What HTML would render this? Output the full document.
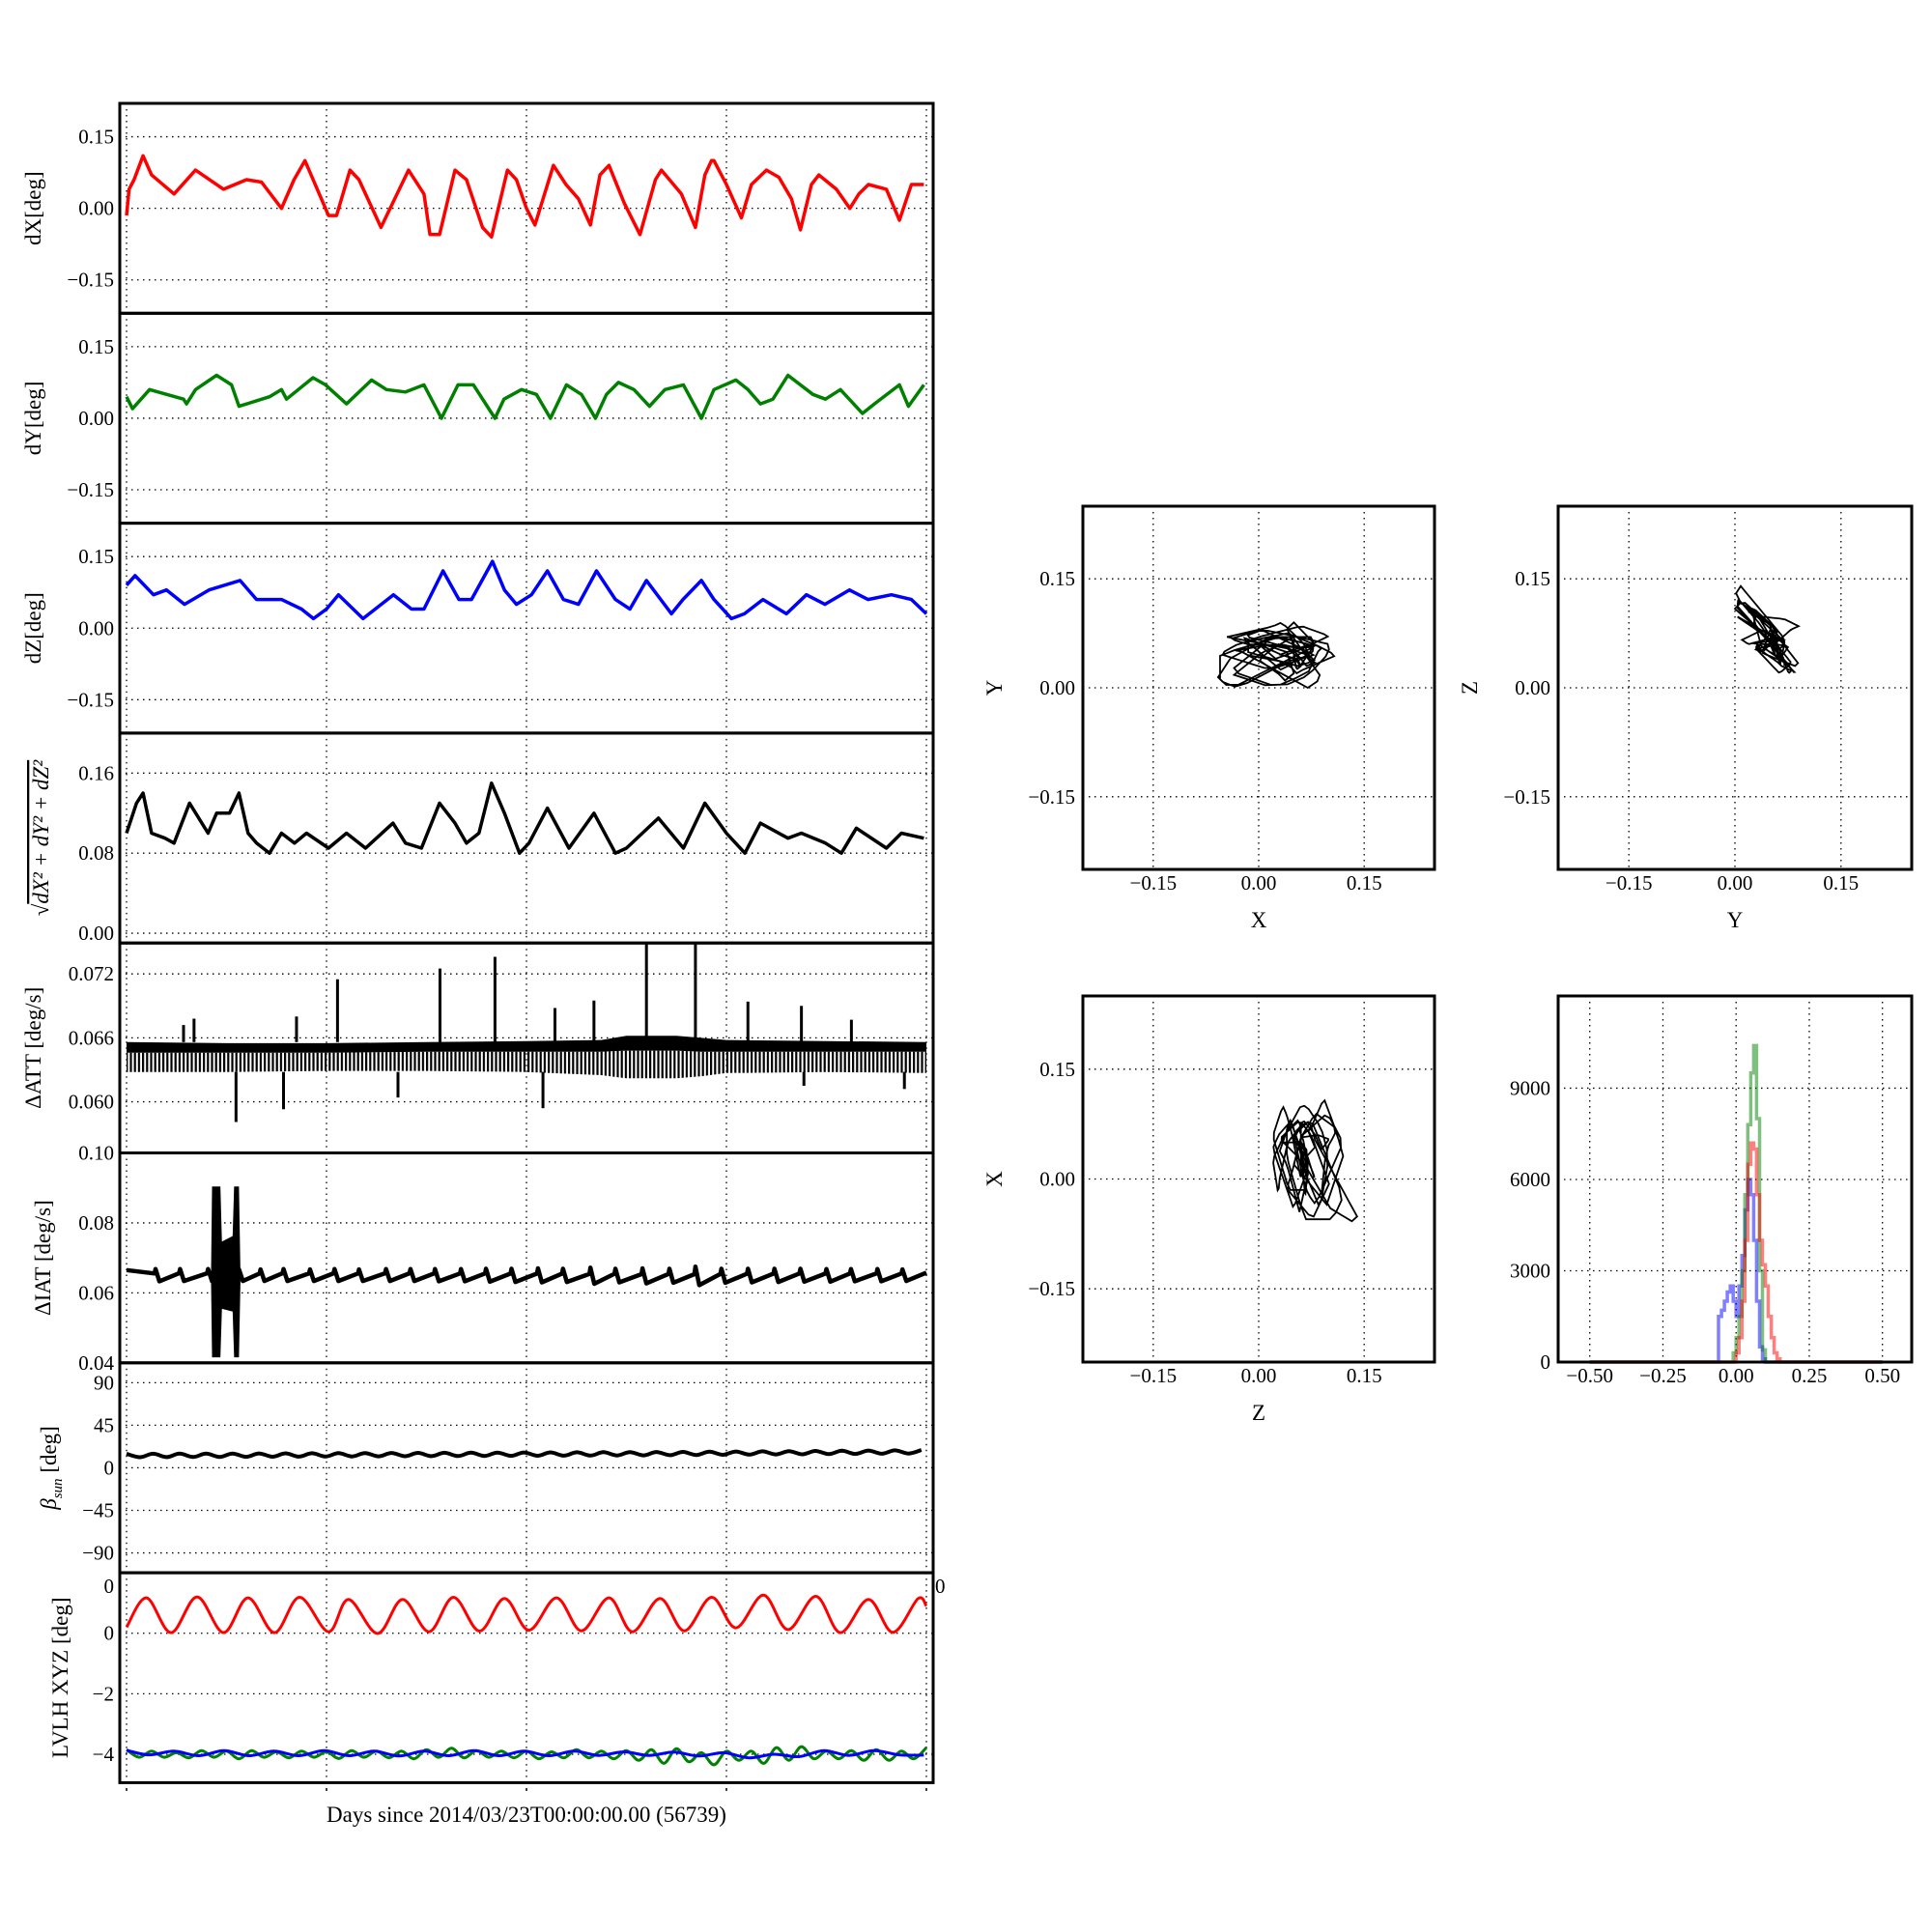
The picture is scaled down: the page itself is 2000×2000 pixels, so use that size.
<!DOCTYPE html>
<html><head><meta charset="utf-8"><style>
html,body{margin:0;padding:0;background:#fff;}
svg{display:block;font-family:"Liberation Serif",serif;}
</style></head><body>
<svg id="fig" width="2000" height="2000" viewBox="0 0 2000 2000" xmlns="http://www.w3.org/2000/svg"><defs><pattern id="comb" patternUnits="userSpaceOnUse" width="4.2" height="10"><rect x="0" y="0" width="2.2" height="10" fill="#000"/></pattern></defs></svg>
<script>
// ---------- data ----------
const dX_t=[0,0.05,0.15,0.33,0.5,0.95,1.38,1.94,2.4,2.7,3.1,3.35,3.57,4.04,4.2,4.47,4.65,5.09,5.64,5.95,6.07,6.26,6.57,6.8,7.12,7.3,7.62,7.8,8.0,8.17,8.54,8.79,9.04,9.28,9.47,9.65,9.96,10.27,10.58,10.7,11.1,11.38,11.57,11.7,11.75,12.0,12.3,12.5,12.8,13.05,13.3,13.48,13.7,13.85,14.2,14.47,14.65,14.84,15.2,15.46,15.7,15.95];
const dX_v=[-0.015,0.04,0.06,0.11,0.07,0.03,0.08,0.04,0.06,0.055,0.0,0.06,0.1,-0.015,-0.015,0.08,0.06,-0.04,0.08,0.03,-0.055,-0.055,0.08,0.06,-0.04,-0.06,0.08,0.06,0.0,-0.035,0.09,0.05,0.02,-0.035,0.07,0.09,0.01,-0.055,0.06,0.08,0.03,-0.04,0.07,0.1,0.1,0.05,-0.02,0.05,0.08,0.065,0.02,-0.045,0.05,0.07,0.04,0.0,0.03,0.05,0.04,-0.025,0.05,0.05];
const dY_t=[0,0.12,0.46,1.14,1.2,1.38,1.8,2.1,2.25,2.86,3.1,3.2,3.73,3.98,4.4,4.6,4.9,5.2,5.58,5.95,6.3,6.63,6.94,7.37,7.55,7.9,8.2,8.48,8.8,9.1,9.38,9.6,9.84,10.15,10.46,10.77,11.14,11.5,11.75,12.19,12.43,12.68,12.93,13.23,13.73,13.98,14.28,14.72,14.96,15.46,15.64,15.95];
const dY_v=[0.045,0.02,0.06,0.04,0.03,0.06,0.09,0.07,0.025,0.045,0.06,0.04,0.085,0.07,0.03,0.05,0.08,0.06,0.055,0.07,0.0,0.07,0.07,0.0,0.04,0.06,0.05,0.0,0.07,0.05,0.0,0.05,0.075,0.06,0.025,0.06,0.07,0.0,0.06,0.08,0.06,0.03,0.04,0.09,0.05,0.04,0.06,0.01,0.03,0.07,0.025,0.07];
const dZ_t=[0,0.17,0.54,0.8,1.16,1.65,2.27,2.6,3.1,3.5,3.74,4.0,4.24,4.73,5.34,5.7,5.95,6.33,6.65,6.9,7.32,7.56,7.8,8.1,8.42,8.74,9.04,9.4,9.78,10.07,10.4,10.9,11.13,11.5,11.75,12.1,12.36,12.73,13.2,13.6,13.97,14.46,14.83,15.3,15.7,16];
const dZ_v=[0.09,0.11,0.07,0.08,0.05,0.08,0.1,0.06,0.06,0.04,0.02,0.04,0.07,0.02,0.07,0.04,0.04,0.12,0.06,0.06,0.14,0.08,0.05,0.07,0.12,0.06,0.05,0.12,0.06,0.04,0.1,0.03,0.06,0.1,0.06,0.02,0.03,0.06,0.03,0.07,0.05,0.08,0.06,0.07,0.06,0.03];
const mag_t=[0,0.2,0.33,0.5,0.77,0.95,1.26,1.63,1.8,2.06,2.25,2.43,2.6,2.86,3.1,3.36,3.6,4.04,4.4,4.78,5.33,5.58,5.9,6.26,6.57,6.8,7.05,7.3,7.56,7.86,8.05,8.42,8.85,9.35,9.78,10.0,10.64,11.14,11.57,12.0,12.37,12.68,13.23,13.5,13.98,14.3,14.6,15.2,15.5,15.95];
const mag_v=[0.1,0.13,0.14,0.1,0.095,0.09,0.13,0.1,0.12,0.12,0.14,0.1,0.09,0.08,0.1,0.09,0.1,0.085,0.1,0.085,0.11,0.09,0.085,0.13,0.11,0.09,0.1,0.15,0.12,0.08,0.09,0.125,0.085,0.12,0.08,0.085,0.115,0.085,0.13,0.1,0.08,0.11,0.095,0.1,0.09,0.08,0.105,0.085,0.1,0.095];
const att_t=[0,2,4,6,8,9.5,10,11,11.5,12,14,16];
const att_hi=[0.0656,0.0655,0.0655,0.0656,0.0657,0.0658,0.0662,0.0662,0.0660,0.0658,0.0657,0.0656];
const att_mid=[0.0646,0.0646,0.0646,0.0647,0.0647,0.0647,0.0648,0.0648,0.0647,0.0647,0.0647,0.0647];
const att_lo=[0.0628,0.0628,0.0629,0.0629,0.0628,0.0625,0.0622,0.0622,0.0624,0.0627,0.0628,0.0627];
const attSpike_t=[1.14,1.35,3.4,4.22,6.27,7.37,8.57,9.35,10.4,11.38,12.43,13.5,14.5,2.19,3.14,5.43,8.33,13.55,15.56];
const attSpike_v=[0.0672,0.0678,0.0680,0.0715,0.0725,0.0736,0.0688,0.0695,0.0752,0.0748,0.0694,0.0690,0.0677,0.0581,0.0593,0.0604,0.0594,0.0615,0.0612];
const iat_t=[0.58,1.07,1.63,2.25,2.68,3.14,3.67,4.16,4.65,5.19,5.68,6.17,6.69,7.19,7.7,8.23,8.73,9.28,9.78,10.32,10.86,11.38,11.9,12.43,12.96,13.48,14.0,14.49,15.02,15.52];
const iat_hi=[0.0668,0.0668,0.0668,0.0667,0.0667,0.0668,0.0667,0.0668,0.0667,0.0668,0.0668,0.0668,0.0668,0.0669,0.0669,0.0670,0.0669,0.0672,0.0669,0.0670,0.0669,0.0675,0.0669,0.0669,0.0669,0.0669,0.0668,0.0668,0.0668,0.0667];
const iat_lo=[0.0633,0.0634,0.0634,0.0634,0.0634,0.0634,0.0634,0.0634,0.0634,0.0634,0.0634,0.0633,0.0633,0.0632,0.0631,0.0630,0.0631,0.0626,0.0630,0.0627,0.0629,0.0622,0.0629,0.0630,0.0631,0.0632,0.0632,0.0633,0.0633,0.0634];
const burst_t=[1.72,1.74,1.85,1.88,2.15,2.18,2.22,2.25];
const burst_hi=[0.066,0.090,0.090,0.074,0.076,0.090,0.090,0.066];
const burst_lo=[0.063,0.042,0.042,0.056,0.055,0.042,0.042,0.063];
const beta_t=[0,0.27,0.53,0.8,1.06,1.33,1.59,1.86,2.12,2.39,2.65,2.92,3.18,3.45,3.71,3.98,4.24,4.51,4.77,5.04,5.3,5.57,5.83,6.1,6.36,6.63,6.89,7.16,7.42,7.69,7.95,8.22,8.48,8.75,9.01,9.28,9.54,9.81,10.07,10.34,10.6,10.87,11.13,11.4,11.66,11.93,12.19,12.46,12.72,12.99,13.25,13.52,13.78,14.05,14.31,14.58,14.84,15.11,15.37,15.64,15.9];
const beta_v=[14.8,11.2,14.9,11.3,15.0,11.4,15.0,11.5,15.1,11.6,15.2,11.7,15.3,11.8,15.4,11.9,15.5,12.0,15.6,12.1,15.7,12.2,15.8,12.3,15.9,12.4,16.0,12.5,16.1,12.6,16.2,12.7,16.3,12.8,16.4,12.9,16.5,13.0,16.6,13.1,16.7,13.3,16.8,13.5,17.0,13.7,17.2,13.9,17.4,14.1,17.6,14.3,17.8,14.5,18.0,14.7,18.2,14.9,18.4,15.1,18.8];
const red_t=[0,0.4,0.89,1.41,1.94,2.43,2.96,3.46,4.04,4.44,5.02,5.52,6.05,6.54,7.06,7.56,8.05,8.6,9.1,9.65,10.12,10.67,11.16,11.7,12.19,12.74,13.23,13.79,14.28,14.84,15.33,15.83,16];
const red_v=[0.2,1.17,0.02,1.2,0.02,1.17,0.02,1.19,0.05,1.12,-0.01,1.12,0.05,1.19,0.07,1.15,0.1,1.17,0.08,1.17,0.05,1.15,0.08,1.19,0.18,1.26,0.12,1.22,0.02,1.12,0.03,1.14,0.9];
const blue_t=[0,0.45,0.95,1.45,1.95,2.45,2.95,3.45,3.95,4.45,4.95,5.45,5.95,6.45,6.95,7.45,7.95,8.45,8.95,9.45,9.95,10.45,10.95,11.45,11.95,12.45,12.95,13.45,13.95,14.45,14.95,15.45,15.95];
const blue_v=[-3.87,-4.02,-3.9,-4.05,-3.88,-4.05,-3.9,-4.05,-3.88,-4.05,-3.9,-4.06,-3.9,-4.05,-3.88,-4.05,-3.9,-4.05,-3.9,-4.04,-3.92,-4.04,-3.93,-4.06,-3.95,-4.12,-4.0,-4.08,-3.88,-4.04,-3.88,-4.02,-4.03];
const green_t=[0,0.25,0.5,0.75,1,1.25,1.5,1.75,2,2.25,2.5,2.75,3,3.25,3.5,3.75,4,4.25,4.5,4.75,5,5.25,5.5,5.75,6,6.25,6.5,6.75,7,7.25,7.5,7.75,8,8.25,8.5,8.75,9,9.25,9.5,9.75,10,10.25,10.5,10.75,11,11.25,11.5,11.75,12,12.25,12.5,12.75,13,13.25,13.5,13.75,14,14.25,14.5,14.75,15,15.25,15.5,15.75,16];
const green_v=[-3.85,-4.1,-3.9,-4.1,-3.95,-4.12,-3.88,-4.1,-3.9,-4.15,-3.88,-4.1,-3.92,-4.12,-3.9,-4.1,-3.92,-4.14,-3.88,-4.1,-3.9,-4.12,-3.9,-4.15,-3.85,-4.1,-3.8,-4.12,-3.88,-4.1,-3.9,-4.12,-3.9,-4.15,-3.92,-4.12,-3.85,-4.12,-3.9,-4.15,-3.88,-4.2,-3.85,-4.3,-3.82,-4.25,-3.95,-4.35,-3.9,-4.2,-3.9,-4.3,-3.78,-4.2,-3.75,-4.15,-3.9,-4.15,-3.88,-4.2,-3.85,-4.2,-3.9,-4.15,-3.78];
const hist_edges=[-0.07,-0.06,-0.05,-0.04,-0.03,-0.02,-0.01,0,0.01,0.02,0.03,0.04,0.05,0.06,0.07,0.08,0.09,0.10,0.11,0.12,0.13,0.14,0.15,0.16];
const hist_blue=[0,1500,1700,2000,2300,2500,2000,1500,2500,3500,5000,6000,5500,4000,2000,500,100,0,0,0,0,0,0];
const hist_green=[0,0,0,0,0,0,300,800,1500,3000,5500,7800,9500,10400,8000,3000,400,0,0,0,0,0,0];
const hist_red=[0,0,0,0,0,0,0,300,800,2000,4000,6500,7200,7000,5500,4000,3200,2500,1500,800,300,100,0];
const dayTicks=[0,4,8,12,16];
const scatTicks=[-0.15,0,0.15];
const scatLabels=["\u22120.15","0.00","0.15"];
const histXTicks=[-0.5,-0.25,0,0.25,0.5];
const histXLabels=["\u22120.50","\u22120.25","0.00","0.25","0.50"];
const histYTicks=[0,3000,6000,9000];

// ---------- helpers ----------
const NS='http://www.w3.org/2000/svg';
const svg=document.getElementById('fig');
function mk(tag,attrs,parent){const e=document.createElementNS(NS,tag);for(const k in attrs)e.setAttribute(k,attrs[k]);(parent||svg).appendChild(e);return e;}
function lin(d0,d1,r0,r1){return v=>r0+(v-d0)/(d1-d0)*(r1-r0);}
function polyPath(xs,ys){let s='';for(let i=0;i<xs.length;i++)s+=(i?'L':'M')+xs[i].toFixed(1)+','+ys[i].toFixed(1);return s;}
function smoothPath(xs,ys){let s='M'+xs[0]+','+ys[0];for(let i=0;i<xs.length-1;i++){const x0=xs[Math.max(i-1,0)],y0=ys[Math.max(i-1,0)],x1=xs[i],y1=ys[i],x2=xs[i+1],y2=ys[i+1],x3=xs[Math.min(i+2,xs.length-1)],y3=ys[Math.min(i+2,xs.length-1)];s+='C'+(x1+(x2-x0)/6).toFixed(1)+','+(y1+(y2-y0)/6).toFixed(1)+' '+(x2-(x3-x1)/6).toFixed(1)+','+(y2-(y3-y1)/6).toFixed(1)+' '+x2.toFixed(1)+','+y2.toFixed(1);}return s;}
const DASH='1.5,4.5';

// ---------- time series panels ----------
const L=124,R=966,TOP0=107,PH=217.3;
const xT=lin(0,16,131,959);
let clipId=0;
function panel(i,y0,y1,ticks,labels,name){
  const top=TOP0+i*PH,bot=top+PH;
  const y=lin(y0,y1,bot,top);
  const g=mk('g',{});
  
  
  const cp=mk('clipPath',{id:'c'+(++clipId)},g);
  mk('rect',{x:L,y:top,width:R-L,height:PH},cp);
  dayTicks.forEach(t=>{const l=mk('line',{x1:xT(t),x2:xT(t),y1:top,y2:bot,stroke:'#000','stroke-width':1.3,'stroke-dasharray':DASH},g);
    
    });
  ticks.forEach((v,k)=>{const yy=y(v);
    if(yy>top+2&&yy<bot-2){const l=mk('line',{x1:L,x2:R,y1:yy,y2:yy,stroke:'#000','stroke-width':1.3,'stroke-dasharray':DASH},g);
      
      }
    const tx=mk('text',{x:118,y:yy+7,'text-anchor':'end','font-size':21},g);tx.textContent=labels[k];
    
    });
  const data=mk('g',{'clip-path':'url(#c'+clipId+')'},g);
  
  
  return {g,data,y,top,bot};
}
function frame(i,name){const top=TOP0+i*PH;const r=mk('rect',{x:L,y:top,width:R-L,height:PH,fill:'none',stroke:'#000','stroke-width':3});
  
  }
function ytitle(x,yc,parts,name){const t=mk('text',{transform:'translate('+x+','+yc+') rotate(-90)','text-anchor':'middle','font-size':23});
  parts.forEach(p=>{const s=mk('tspan',p.a||{},t);s.textContent=p.s;});
  
  }
function line(p,ts,vs,color,w,name,smooth){const n=Math.min(ts.length,vs.length);const xs=[],ys=[];for(let k=0;k<n;k++){xs.push(xT(ts[k]));ys.push(p.y(vs[k]));}
  const e=mk('path',{d:smooth?smoothPath(xs,ys):polyPath(xs,ys),fill:'none',stroke:color,'stroke-width':w,'stroke-linejoin':'round'},p.data);
  
  }
const cent=i=>TOP0+i*PH+PH/2;

let p=panel(0,-0.22,0.22,[0.15,0,-0.15],["0.15","0.00","\u22120.15"],'dx');
line(p,dX_t,dX_v,'#ff0000',3.5,'dx-line');
ytitle(42,cent(0),[{s:'dX[deg]'}],'dx-axis-title');
p=panel(1,-0.22,0.22,[0.15,0,-0.15],["0.15","0.00","\u22120.15"],'dy');
line(p,dY_t,dY_v,'#008000',3.5,'dy-line');
ytitle(42,cent(1),[{s:'dY[deg]'}],'dy-axis-title');
p=panel(2,-0.22,0.22,[0.15,0,-0.15],["0.15","0.00","\u22120.15"],'dz');
line(p,dZ_t,dZ_v,'#0000ff',3.5,'dz-line');
ytitle(42,cent(2),[{s:'dZ[deg]'}],'dz-axis-title');
p=panel(3,-0.0098,0.2,[0.16,0.08,0],["0.16","0.08","0.00"],'magnitude');
line(p,mag_t,mag_v,'#000',3.5,'magnitude-line');
ytitle(50,cent(3),[{s:'\u221a',a:{'font-style':'normal'}},{s:'dX\u00b2 + dY\u00b2 + dZ\u00b2',a:{'font-style':'italic','text-decoration':'overline'}}],'magnitude-axis-title');
// ATT
p=panel(4,0.0552,0.0749,[0.072,0.066,0.060],["0.072","0.066","0.060"],'att');
(function(){
  function band(upper,lower,fill,name){const xs=[],ys=[];att_t.forEach((t,k)=>{xs.push(xT(t));ys.push(p.y(upper[k]));});
    for(let k=att_t.length-1;k>=0;k--){xs.push(xT(att_t[k]));ys.push(p.y(lower[k]));}
    const e=mk('path',{d:polyPath(xs,ys)+'Z',fill:fill,stroke:'none'},p.data);
    
    }
  band(att_mid,att_lo,'url(#comb)','att-band-comb');
  band(att_hi,att_mid,'#000','att-band-solid');
  attSpike_t.forEach((t,k)=>{const base=attSpike_v[k]>0.065?att_hi[0]:att_lo[0];
    const s=mk('line',{x1:xT(t),x2:xT(t),y1:p.y(base),y2:p.y(attSpike_v[k]),stroke:'#000','stroke-width':3},p.data);
    
    });})();
ytitle(42,cent(4),[{s:'\u0394ATT [deg/s]'}],'att-axis-title');
// IAT
p=panel(5,0.04,0.10,[0.10,0.08,0.06,0.04],["0.10","0.08","0.06","0.04"],'iat');
(function(){const xs=[xT(0)],ys=[p.y(0.0665)];
  iat_t.forEach((t,k)=>{xs.push(xT(t)-1);ys.push(p.y((iat_hi[k]+iat_lo[k])/2+0.0005));xs.push(xT(t));ys.push(p.y(iat_hi[k]));xs.push(xT(t)+4);ys.push(p.y(iat_lo[k]));});
  xs.push(xT(16));ys.push(p.y(0.0658));
  const e=mk('path',{d:polyPath(xs,ys),fill:'none',stroke:'#000','stroke-width':4.5,'stroke-linejoin':'round'},p.data);
  
  
  const bx=[],by=[];burst_t.forEach((t,k)=>{bx.push(xT(t));by.push(p.y(burst_hi[k]));});
  for(let k=burst_t.length-1;k>=0;k--){bx.push(xT(burst_t[k]));by.push(p.y(burst_lo[k]));}
  const b=mk('path',{d:polyPath(bx,by)+'Z',fill:'#000',stroke:'#000','stroke-width':3},p.data);
  
  })();
ytitle(52,cent(5),[{s:'\u0394IAT [deg/s]'}],'iat-axis-title');
// beta
p=panel(6,-111,111,[90,45,0,-45,-90],["90","45","0","\u221245","\u221290"],'beta-sun');
line(p,beta_t,beta_v,'#000',4,'beta-sun-line',true);
ytitle(58,cent(6),[{s:'\u03b2',a:{'font-style':'italic'}},{s:'sun',a:{'font-style':'italic','font-size':15,dy:6}},{s:' [deg]',a:{dy:-6}}],'beta-axis-title');
// LVLH
p=panel(7,-4.94,2.0,[0,-2,-4],["0","\u22122","\u22124"],'lvlh');
(function(){const yy=p.y(1.55)+7;const a=mk('text',{x:118,y:yy,'text-anchor':'end','font-size':21});a.textContent='0';
  
  
  const b=mk('text',{x:968,y:yy,'font-size':21});b.textContent='0';
  
  })();
line(p,red_t,red_v,'#ff0000',3,'lvlh-x-line',true);
line(p,green_t,green_v,'#008000',3,'lvlh-y-line',true);
line(p,blue_t,blue_v,'#0000ff',3,'lvlh-z-line',true);
ytitle(70,cent(7),[{s:'LVLH XYZ [deg]'}],'lvlh-axis-title');
for(let i=0;i<8;i++)frame(i,'panel-'+i);
dayTicks.forEach(t=>{const d=mk('line',{x1:xT(t),x2:xT(t),y1:1851,y2:1854,stroke:'#000','stroke-width':1.5});
  
  });
(function(){const t=mk('text',{x:545,y:1886,'text-anchor':'middle','font-size':23});t.textContent='Days since 2014/03/23T00:00:00.00 (56739)';
  
  })();

// ---------- scatter panels ----------
function interp(ts,vs,t){if(t<=ts[0])return vs[0];for(let k=1;k<ts.length;k++){if(t<=ts[k]){const f=(t-ts[k-1])/(ts[k]-ts[k-1]);return vs[k-1]+f*(vs[k]-vs[k-1]);}}return vs[vs.length-1];}
function scatter(x0,y0,w,h,ax,ay,xl,yl,name){
  const g=mk('g',{});
  
  
  const sx=lin(-0.25,0.25,x0,x0+w),sy=lin(-0.25,0.25,y0+h,y0);
  scatTicks.forEach((v,k)=>{
    const a=mk('line',{x1:sx(v),x2:sx(v),y1:y0,y2:y0+h,stroke:'#000','stroke-width':1.3,'stroke-dasharray':DASH},g);
    
    
    const b=mk('line',{x1:x0,x2:x0+w,y1:sy(v),y2:sy(v),stroke:'#000','stroke-width':1.3,'stroke-dasharray':DASH},g);
    
    
    const tx=mk('text',{x:sx(v),y:y0+h+21,'text-anchor':'middle','font-size':21},g);tx.textContent=scatLabels[k];
    
    
    const ty=mk('text',{x:x0-8,y:sy(v)+7,'text-anchor':'end','font-size':21},g);ty.textContent=scatLabels[k];
    
    });
  const xs=[],ys=[];for(let t=0;t<=16;t+=0.04){xs.push(sx(interp(ax[0],ax[1],t)));ys.push(sy(interp(ay[0],ay[1],t)));}
  const pth=mk('path',{d:polyPath(xs,ys),fill:'none',stroke:'#000','stroke-width':1.8},g);
  
  
  const fr=mk('rect',{x:x0,y:y0,width:w,height:h,fill:'none',stroke:'#000','stroke-width':3},g);
  
  
  const xt=mk('text',{x:x0+w/2,y:y0+h+60,'text-anchor':'middle','font-size':23},g);xt.textContent=xl;
  
  
  const yt=mk('text',{transform:'translate('+(x0-84)+','+(y0+h/2)+') rotate(-90)','text-anchor':'middle','font-size':23},g);yt.textContent=yl;
  
  
}
scatter(1121,524,364,376,[dX_t,dX_v],[dY_t,dY_v],'X','Y','scatter-x-y');
scatter(1613,524,366,376,[dY_t,dY_v],[dZ_t,dZ_v],'Y','Z','scatter-y-z');
scatter(1121,1031,364,379,[dZ_t,dZ_v],[dX_t,dX_v],'Z','X','scatter-z-x');

// ---------- histogram ----------
(function(){
  const x0=1613,y0=1031,w=366,h=379;
  const g=mk('g',{});
  
  
  const sx=lin(-0.608,0.6,x0,x0+w),sy=lin(0,12030,y0+h,y0);
  histXTicks.forEach((v,k)=>{const a=mk('line',{x1:sx(v),x2:sx(v),y1:y0,y2:y0+h,stroke:'#000','stroke-width':1.3,'stroke-dasharray':DASH},g);
    
    
    const t=mk('text',{x:sx(v),y:y0+h+21,'text-anchor':'middle','font-size':21},g);t.textContent=histXLabels[k];
    
    });
  histYTicks.forEach(v=>{if(v>0){const a=mk('line',{x1:x0,x2:x0+w,y1:sy(v),y2:sy(v),stroke:'#000','stroke-width':1.3,'stroke-dasharray':DASH},g);
    
    }
    const t=mk('text',{x:x0-8,y:sy(v)+7,'text-anchor':'end','font-size':21},g);t.textContent=String(v);
    
    });
  function step(counts,color,name){const xs=[sx(-0.5)],ys=[sy(0)];
    for(let k=0;k<counts.length;k++){xs.push(sx(hist_edges[k]));ys.push(sy(counts[k]));xs.push(sx(hist_edges[k+1]));ys.push(sy(counts[k]));}
    xs.push(sx(hist_edges[hist_edges.length-1]));ys.push(sy(0));xs.push(sx(0.5));ys.push(sy(0));
    const e=mk('path',{d:polyPath(xs,ys),fill:'none',stroke:color,'stroke-width':3.5,'stroke-opacity':0.5},g);
    
    }
  step(hist_blue,'#0000ff','hist-z');
  step(hist_green,'#008000','hist-y');
  step(hist_red,'#ff0000','hist-x');
  const fr=mk('rect',{x:x0,y:y0,width:w,height:h,fill:'none',stroke:'#000','stroke-width':3},g);
  
  
})();
</script>
</body></html>
